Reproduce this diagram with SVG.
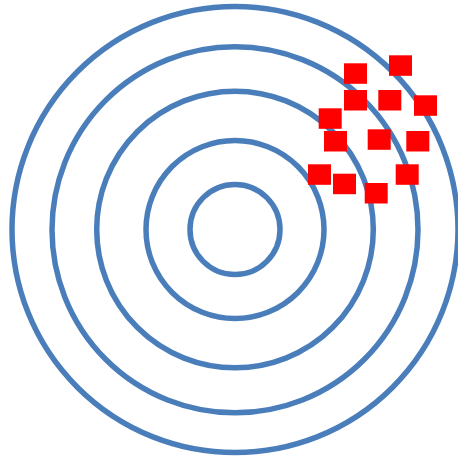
<svg xmlns="http://www.w3.org/2000/svg" width="458" height="457" viewBox="0 0 458 457">
<style>
.ring{fill:none;stroke:#4A7EBB;stroke-width:5.5}
.sq{fill:#FF0000}
</style>
<rect width="458" height="457" fill="#FFFFFF"/>
<g id="target">
<circle class="ring" cx="235" cy="229.5" r="223"/>
<circle class="ring" cx="235" cy="229.8" r="183"/>
<circle class="ring" cx="235" cy="229.5" r="138.3"/>
<circle class="ring" cx="235" cy="229.5" r="89"/>
<circle class="ring" cx="235" cy="229.5" r="45"/>
</g>
<g id="shots">
<rect class="sq" x="344" y="63.3" width="23" height="20.5"/>
<rect class="sq" x="389" y="55.3" width="23" height="20.5"/>
<rect class="sq" x="344" y="90" width="23" height="20.5"/>
<rect class="sq" x="378.3" y="90" width="23" height="20.5"/>
<rect class="sq" x="414" y="95.3" width="23" height="20.5"/>
<rect class="sq" x="318.7" y="108.3" width="23" height="20.5"/>
<rect class="sq" x="324" y="131" width="23" height="20.5"/>
<rect class="sq" x="367.7" y="129.3" width="23" height="20.5"/>
<rect class="sq" x="406.3" y="131" width="23" height="20.5"/>
<rect class="sq" x="308" y="164.3" width="23" height="20.5"/>
<rect class="sq" x="333" y="173.7" width="23" height="20.5"/>
<rect class="sq" x="364.7" y="183" width="23" height="20.5"/>
<rect class="sq" x="395.7" y="164.3" width="23" height="20.5"/>
</g>
</svg>
